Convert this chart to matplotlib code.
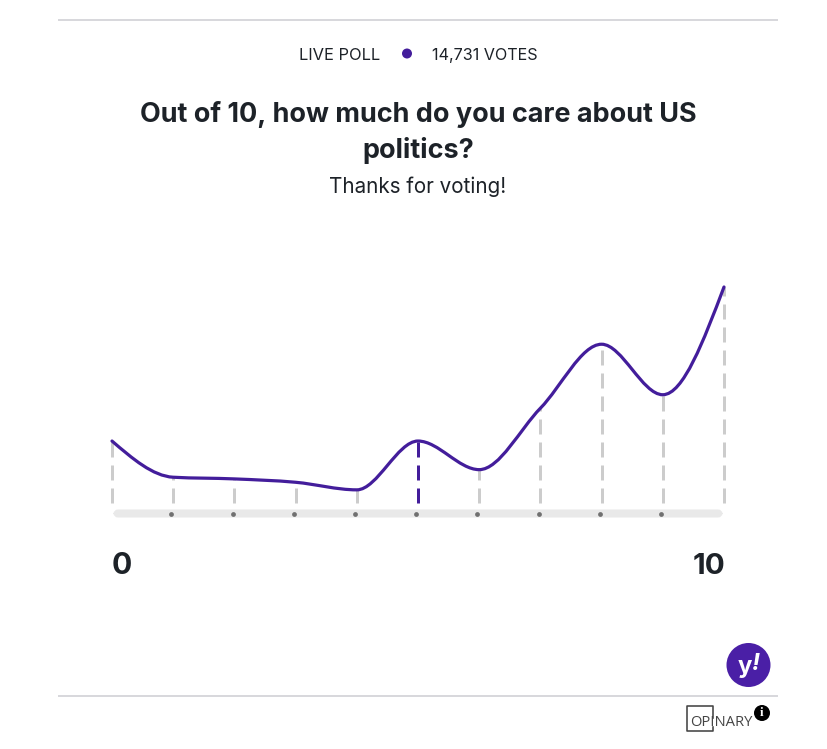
import matplotlib
matplotlib.use('Agg')
import matplotlib.pyplot as plt
import numpy as np
from matplotlib.path import Path
from matplotlib.patches import PathPatch, Circle, FancyBboxPatch

W, H = 827, 749
PURPLE = '#431D9B'
INK = '#1D2228'

plt.rcParams['font.family'] = ['Inter', 'DejaVu Sans']

# share of votes per score
scores = [0, 1, 2, 3, 4, 5, 6, 7, 8, 9, 10]
shares = [7.6, 3.3, 3.1, 2.7, 1.8, 7.6, 4.2, 11.5, 19.1, 13.1, 25.9]
selected = 5
end_labels = ['0', '10']


def px(n):
    # pixels to points at dpi 100
    return n * 0.72


# monotone cubic through the points, as bezier segments
def monotone_path(x, y):
    x = np.array(x, dtype=float)
    y = np.array(y, dtype=float)
    h = np.diff(x)
    s = np.diff(y) / h
    m = np.zeros(len(x))
    for i in range(1, len(x) - 1):
        if s[i - 1] * s[i] > 0:
            p = (s[i - 1] * h[i] + s[i] * h[i - 1]) / (h[i - 1] + h[i])
            m[i] = (np.sign(s[i - 1]) + np.sign(s[i])) * min(abs(s[i - 1]), abs(s[i]), 0.5 * abs(p))
    m[0] = (3 * s[0] - m[1]) / 2
    m[-1] = (3 * s[-1] - m[-2]) / 2
    verts = [(x[0], y[0])]
    codes = [Path.MOVETO]
    for i in range(len(h)):
        d = h[i] / 3
        verts += [(x[i] + d, y[i] + m[i] * d), (x[i + 1] - d, y[i + 1] - m[i + 1] * d), (x[i + 1], y[i + 1])]
        codes += [Path.CURVE4] * 3
    return Path(verts, codes)


fig = plt.figure(figsize=(W / 100, H / 100), dpi=100, facecolor='white')

# page layer in pixel coordinates for the widget furniture
page = fig.add_axes([0, 0, 1, 1])
page.set_xlim(0, W)
page.set_ylim(H, 0)
page.axis('off')

page.plot([58, 778], [20, 20], color='#D8D8DC', lw=px(2), solid_capstyle='butt')
page.plot([58, 778], [696, 696], color='#D8D8DC', lw=px(2), solid_capstyle='butt')

page.text(340, 60, 'LIVE POLL', ha='center', va='baseline', fontsize=px(16.5), color=INK)
page.add_patch(Circle((407, 53.5), 5, color=PURPLE, lw=0))
page.text(484.5, 60, '14,731 VOTES', ha='center', va='baseline', fontsize=px(16.2), color=INK)

page.text(418, 115, 'Out of 10, how much do you care about US', ha='center', va='center',
          fontsize=px(27), fontweight='bold', color=INK)
page.text(418, 151, 'politics?', ha='center', va='center', fontsize=px(27), fontweight='bold', color=INK)
page.text(418, 186.5, 'Thanks for voting!', ha='center', va='center', fontsize=px(20.6), color=INK)

# slider track
page.add_patch(FancyBboxPatch((115, 511), 606, 5, boxstyle='round,pad=0,rounding_size=3',
                              mutation_aspect=1, fc='#E9E9E9', ec='#E9E9E9', lw=px(3)))

page.text(112, 566, end_labels[0], ha='left', va='center', fontsize=px(30), fontweight='bold', color=INK)
page.text(725, 566, end_labels[1], ha='right', va='center', fontsize=px(29.5), fontweight='bold', color=INK)

# yahoo badge
page.add_patch(Circle((748.5, 665), 22, color='#4A1FA6', lw=0))
page.text(745, 667, 'y', ha='center', va='center', fontsize=px(24), fontweight='bold', color='white')
page.text(756, 664, '!', ha='center', va='center', fontsize=px(24), fontweight='bold',
          style='italic', color='white')

# opinary mark
page.plot([713, 713, 687, 687, 713, 713], [718, 706, 706, 731, 731, 727], color='#444444', lw=px(1.6))
page.text(690.5, 722.5, 'OPINARY', ha='left', va='center', fontsize=px(14.8), color='#444444',
          family=['Open Sans', 'DejaVu Sans'])
page.add_patch(Circle((762, 713), 8, color='black', lw=0))
page.text(762, 713.5, 'i', ha='center', va='center', fontsize=px(13), fontweight='bold',
          color='white', family=['Liberation Serif'])

# chart layer, x 0..10 spans pixels 112..724, share 0 sits at pixel 505
y_max = 26
y_top = 505 - y_max * 218 / 25.9
ax = fig.add_axes([112 / W, 1 - 505 / H, (724 - 112) / W, (505 - y_top) / H], facecolor='none')
ax.set_xlim(0, 10)
ax.set_ylim(0, y_max)
ax.axis('off')

# dashes run up from the foot of each score to the curve
for s, v in zip(scores, shares):
    c = PURPLE if s == selected else '#CCCCCC'
    ax.plot([s, s], [0.24, v], color=c, lw=px(3), linestyle=(0, (15 / 3, 8 / 3)),
            dash_capstyle='butt', clip_on=False, zorder=2)

ax.add_patch(PathPatch(monotone_path(scores, shares), fc='none', ec=PURPLE, lw=px(3.2),
                       capstyle='round', clip_on=False, zorder=3))

# small dots on the track
ax.scatter([s - 0.028 for s in scores[1:-1]], [-1.07] * 9, s=px(4.8) ** 2, color='#707070',
           marker='o', lw=0, clip_on=False, zorder=4)

fig.savefig('out.png', dpi=100)
